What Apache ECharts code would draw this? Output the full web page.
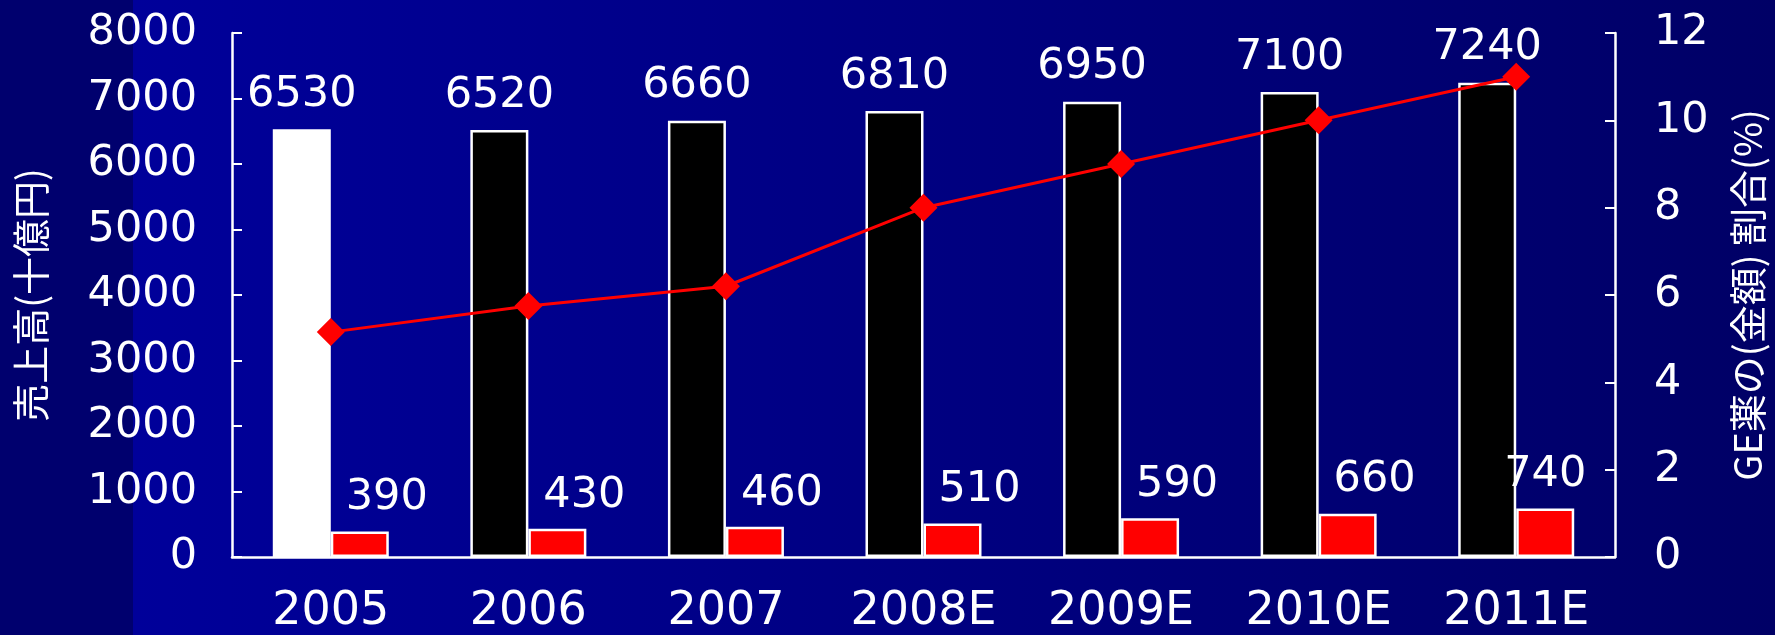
<!DOCTYPE html>
<html>
<head>
<meta charset="utf-8">
<script src="https://cdn.jsdelivr.net/npm/echarts@6/dist/echarts.min.js"></script>
<style>
  html, body { margin: 0; padding: 0; }
  #chart { width: 1775px; height: 635px; }
</style>
</head>
<body>
<div id="chart"></div>
<script>
// Data
const years = ["2005", "2006", "2007", "2008E", "2009E", "2010E", "2011E"];
const totalSales = [6530, 6520, 6660, 6810, 6950, 7100, 7240];
const geSales = [390, 430, 460, 510, 590, 660, 740];
const geShare = [5.15, 5.75, 6.2, 8.0, 9.0, 10.0, 11.0];
const leftTicks = [0, 8000, 1000];
const rightTicks = [0, 12, 2];

const FONT = "DejaVu Sans";
const JP_FONT = "Noto Sans CJK JP";

const chart = echarts.init(document.getElementById("chart"));

// first (actual) year is drawn white, the rest black
const totalData = totalSales.map((v, i) =>
  i === 0 ? { value: v, itemStyle: { color: "#ffffff" } } : v
);
// last red label sits over its bar, others are pushed right
const geData = geSales.map((v, i) =>
  i === geSales.length - 1 ? { value: v, label: { offset: [0, 0] } } : v
);

const axisLabelStyle = {
  color: "#ffffff",
  fontFamily: FONT,
  fontSize: 43,
  // no thousands separator
  formatter: (v) => String(v),
};

chart.setOption({
  backgroundColor: new echarts.graphic.LinearGradient(0, 0, 1, 0, [
    { offset: 0, color: "#00006e" },
    { offset: 0.075, color: "#00006e" },
    { offset: 0.0751, color: "#00009a" },
    { offset: 1, color: "#000066" },
  ]),
  animation: false,
  grid: { left: 232, right: 151, top: 33, bottom: 76 },
  xAxis: {
    type: "category",
    data: years,
    axisLine: { lineStyle: { color: "#ffffff", width: 2.5 } },
    axisTick: { inside: true, length: 10, lineStyle: { color: "#ffffff", width: 2 } },
    axisLabel: { color: "#ffffff", fontFamily: FONT, fontSize: 46, margin: 32 },
  },
  yAxis: [
    {
      type: "value",
      min: leftTicks[0],
      max: leftTicks[1],
      interval: leftTicks[2],
      name: "売上高(十億円)",
      nameLocation: "middle",
      nameGap: 182,
      nameTextStyle: { color: "#ffffff", fontFamily: JP_FONT, fontSize: 38 },
      axisLine: { show: true, lineStyle: { color: "#ffffff", width: 2.5 } },
      axisTick: { show: true, inside: true, length: 10, lineStyle: { color: "#ffffff", width: 2 } },
      axisLabel: { ...axisLabelStyle, margin: 35 },
      splitLine: { show: false },
    },
    {
      type: "value",
      min: rightTicks[0],
      max: rightTicks[1],
      interval: rightTicks[2],
      position: "right",
      name: "GE薬の(金額) 割合(%)",
      nameLocation: "middle",
      nameRotate: 90,
      nameGap: 114,
      nameTextStyle: { color: "#ffffff", fontFamily: JP_FONT, fontSize: 38 },
      axisLine: { show: true, lineStyle: { color: "#ffffff", width: 2.5 } },
      axisTick: { show: true, inside: true, length: 10, lineStyle: { color: "#ffffff", width: 2 } },
      axisLabel: { ...axisLabelStyle, margin: 39 },
      splitLine: { show: false },
    },
  ],
  series: [
    {
      name: "売上高",
      type: "bar",
      data: totalData,
      barWidth: 58,
      barGap: "0%",
      itemStyle: { color: "#000000", borderColor: "#ffffff", borderWidth: 2.5 },
      label: {
        show: true,
        position: "top",
        distance: 13,
        color: "#ffffff",
        fontFamily: FONT,
        fontSize: 43,
      },
    },
    {
      name: "GE薬",
      type: "bar",
      data: geData,
      barWidth: 58,
      itemStyle: { color: "#ff0000", borderColor: "#ffffff", borderWidth: 2.5 },
      label: {
        show: true,
        position: "top",
        distance: 12,
        offset: [27, 0],
        color: "#ffffff",
        fontFamily: FONT,
        fontSize: 43,
      },
    },
    {
      name: "GE薬の割合",
      type: "line",
      yAxisIndex: 1,
      data: geShare,
      symbol: "diamond",
      symbolSize: 28,
      z: 5,
      lineStyle: { color: "#ff0000", width: 3 },
      itemStyle: { color: "#ff0000" },
    },
  ],
});
</script>
</body>
</html>
